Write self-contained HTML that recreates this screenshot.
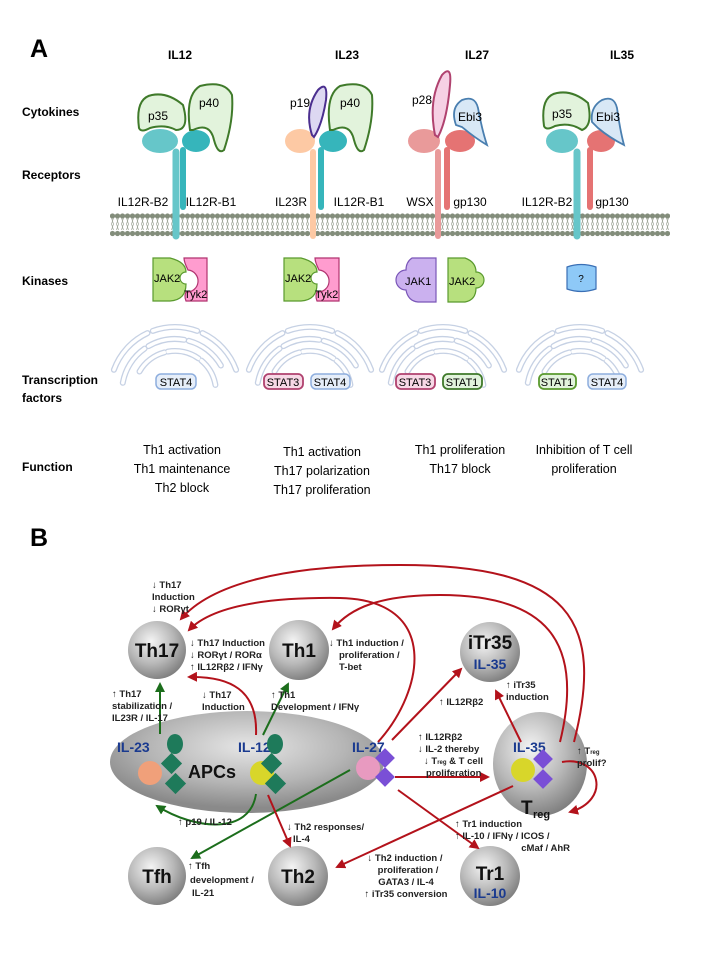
<!DOCTYPE html>
<html><head><meta charset="utf-8"><style>
html,body{margin:0;padding:0;background:#fff;}
svg{display:block;font-family:"Liberation Sans",Arial,sans-serif;}
.h{font-weight:bold;font-size:12px;}
.lab{font-size:12px;}
.b{font-weight:bold;font-size:9.5px;fill:#222;}
.cell{font-weight:bold;font-size:19px;fill:#111;text-anchor:middle;}
.blue{fill:#1a3a8f;font-weight:bold;}
.st{font-size:11px;text-anchor:middle;}
</style></head><body>
<svg width="720" height="960" viewBox="0 0 720 960" xmlns="http://www.w3.org/2000/svg">
<defs>
<pattern id="lip" x="0" y="213" width="5" height="24" patternUnits="userSpaceOnUse">
<circle cx="2.5" cy="3" r="2.6" fill="#838d7b"/>
<circle cx="2.5" cy="20.5" r="2.6" fill="#838d7b"/>
<path d="M1.5 5 L3.5 11 L1.5 17 M3.5 5 L1.5 11 L3.5 17" stroke="#9ca496" stroke-width="0.7" fill="none"/>
</pattern>
<radialGradient id="sph" cx="40%" cy="35%" r="70%">
<stop offset="0" stop-color="#f4f4f4"/><stop offset="0.55" stop-color="#b8b8b8"/><stop offset="1" stop-color="#7a7a7a"/>
</radialGradient>
<radialGradient id="apc" cx="50%" cy="35%" r="60%">
<stop offset="0" stop-color="#e6e6e6"/><stop offset="0.6" stop-color="#b5b5b5"/><stop offset="1" stop-color="#8a8a8a"/>
</radialGradient>
<marker id="ar" viewBox="0 0 10 10" refX="8" refY="5" markerWidth="5" markerHeight="5" orient="auto"><path d="M0 0 L10 5 L0 10 z" fill="#b3121b"/></marker>
<marker id="ag" viewBox="0 0 10 10" refX="8" refY="5" markerWidth="5" markerHeight="5" orient="auto"><path d="M0 0 L10 5 L0 10 z" fill="#1c6e1c"/></marker>
<g id="erp" fill="none" stroke-linecap="round">
<path d="M-61.1 -22.2 A65 65 0 0 1 -27.5 -58.9"/>
<path d="M-22.2 -61.1 A65 65 0 0 1 22.2 -61.1"/>
<path d="M27.5 -58.9 A65 65 0 0 1 61.1 -22.2"/>
<path d="M-52.2 -9.2 A53 53 0 0 1 -30.4 -43.4"/>
<path d="M-26.5 -45.9 A53 53 0 0 1 9.2 -52.2"/>
<path d="M13.7 -51.2 A53 53 0 0 1 45.9 -26.5"/>
<path d="M-35.5 -20.5 A41 41 0 0 1 -10.6 -39.6"/>
<path d="M-7.1 -40.4 A41 41 0 0 1 23.5 -33.6"/>
<path d="M26.4 -31.4 A41 41 0 0 1 40.4 -7.1"/>
</g>
<g id="er">
<use href="#erp" stroke="#c6d1e4" stroke-width="6"/>
<use href="#erp" stroke="#ffffff" stroke-width="3.4"/>
</g>
</defs>

<!-- Panel A -->
<text x="30" y="57" font-size="25" font-weight="bold">A</text>
<g class="h" text-anchor="middle">
<text x="180" y="59">IL12</text><text x="347" y="59">IL23</text><text x="477" y="59">IL27</text><text x="622" y="59">IL35</text>
</g>
<g class="h">
<text x="22" y="116">Cytokines</text><text x="22" y="179">Receptors</text><text x="22" y="285">Kinases</text>
<text x="22" y="384">Transcription</text><text x="22" y="402">factors</text><text x="22" y="471">Function</text>
</g>

<rect x="110" y="213" width="560" height="24" fill="url(#lip)"/>

<!-- IL12 receptors -->
<g>
<path d="M176 236 L176 152" stroke="#66c6c9" stroke-width="7" stroke-linecap="round"/>
<ellipse cx="160" cy="141" rx="18" ry="12" fill="#66c6c9"/>
<path d="M183 207 L183 150" stroke="#36b5bb" stroke-width="6" stroke-linecap="round"/>
<ellipse cx="196" cy="141" rx="14" ry="11" fill="#36b5bb"/>
<path d="M139 128 Q135 98 152 95 Q168 92 183 105 Q190 130 176 130 Q165 124 150 128 Q141 133 139 128Z" fill="#e2f3dc" stroke="#3f7a2a" stroke-width="2"/>
<path d="M190 130 Q185 95 200 86 Q225 80 232 95 Q234 120 224 150 Q218 155 214 140 Q210 122 193 130Z" fill="#e2f3dc" stroke="#3f7a2a" stroke-width="2"/>
<text x="148" y="120" class="lab">p35</text><text x="199" y="107" class="lab">p40</text>
</g>
<!-- IL23 -->
<g>
<path d="M313 236 L313 152" stroke="#fdc9a4" stroke-width="6" stroke-linecap="round"/>
<ellipse cx="300" cy="141" rx="15" ry="12" fill="#fdc9a4"/>
<path d="M321 207 L321 150" stroke="#36b5bb" stroke-width="6" stroke-linecap="round"/>
<ellipse cx="333" cy="141" rx="14" ry="11" fill="#36b5bb"/>
<path d="M312 135 Q304 110 318 90 Q328 80 326 100 Q322 125 314 137Z" fill="#ddd8f2" stroke="#4b2f8f" stroke-width="2"/>
<path d="M330 130 Q325 95 340 86 Q365 80 372 95 Q374 120 364 150 Q358 155 354 140 Q350 122 333 130Z" fill="#e2f3dc" stroke="#3f7a2a" stroke-width="2"/>
<text x="290" y="107" class="lab">p19</text><text x="340" y="107" class="lab">p40</text>
</g>
<!-- IL27 -->
<g>
<path d="M438 236 L438 152" stroke="#e99a9a" stroke-width="6" stroke-linecap="round"/>
<ellipse cx="424" cy="141" rx="16" ry="12" fill="#e99a9a"/>
<path d="M447 207 L447 150" stroke="#e57373" stroke-width="6" stroke-linecap="round"/>
<ellipse cx="460" cy="141" rx="15" ry="11" fill="#e57373"/>
<path d="M435 135 Q428 100 442 75 Q452 64 450 85 Q447 120 438 137Z" fill="#f6d0e4" stroke="#b0426f" stroke-width="2"/>
<path d="M456 125 Q450 108 462 100 Q475 95 478 108 Q482 130 487 145 Q475 138 462 127Z" fill="#d8e8f6" stroke="#4a7fb0" stroke-width="1.8"/>
<text x="412" y="104" class="lab">p28</text><text x="458" y="121" class="lab">Ebi3</text>
</g>
<!-- IL35 -->
<g>
<path d="M577 236 L577 152" stroke="#66c6c9" stroke-width="7" stroke-linecap="round"/>
<ellipse cx="562" cy="141" rx="16" ry="12" fill="#66c6c9"/>
<path d="M590 207 L590 150" stroke="#e57373" stroke-width="6" stroke-linecap="round"/>
<ellipse cx="601" cy="141" rx="14" ry="11" fill="#e57373"/>
<path d="M544 126 Q540 96 557 93 Q573 90 588 103 Q593 126 582 130 Q570 122 555 126 Q546 131 544 126Z" fill="#e2f3dc" stroke="#3f7a2a" stroke-width="2"/>
<path d="M592 122 Q590 107 602 100 Q614 95 617 108 Q620 130 624 145 Q610 138 598 128Z" fill="#d8e8f6" stroke="#4a7fb0" stroke-width="1.8"/>
<text x="552" y="118" class="lab">p35</text><text x="596" y="121" class="lab">Ebi3</text>
</g>
<g class="lab" text-anchor="middle">
<text x="143" y="206">IL12R-B2</text><text x="211" y="206">IL12R-B1</text>
<text x="291" y="206">IL23R</text><text x="359" y="206">IL12R-B1</text>
<text x="420" y="206">WSX</text><text x="470" y="206">gp130</text>
<text x="547" y="206">IL12R-B2</text><text x="612" y="206">gp130</text>
</g>

<!-- kinases -->
<g font-size="11">
<path d="M153 258 L170 258 Q186 262 186 272 A6 6 0 0 0 186 284 Q186 300 170 301 L153 301Z" fill="#b7e07e" stroke="#5a9a2e" stroke-width="1.2"/>
<path d="M184 258 L207 258 L207 301 L186 301 Q184 296 186 292 A8 8 0 0 0 188 270 Q184 262 184 258Z" fill="#ff9ccf" stroke="#b0336f" stroke-width="1.2"/>
<text x="154" y="282">JAK2</text><text x="184" y="298">Tyk2</text>
<path d="M284 258 L301 258 Q317 262 317 272 A6 6 0 0 0 317 284 Q317 300 301 301 L284 301Z" fill="#b7e07e" stroke="#5a9a2e" stroke-width="1.2"/>
<path d="M315 258 L339 258 L339 301 L317 301 Q315 296 317 292 A8 8 0 0 0 319 270 Q315 262 315 258Z" fill="#ff9ccf" stroke="#b0336f" stroke-width="1.2"/>
<text x="285" y="282">JAK2</text><text x="315" y="298">Tyk2</text>
<path d="M436 258 L412 258 Q406 262 406 270 A7 7 0 0 0 406 290 Q408 301 418 302 L436 302Z" fill="#cbb1ef" stroke="#7a56b8" stroke-width="1.2"/>
<path d="M448 258 L465 258 Q476 262 476 272 A7 7 0 0 1 476 288 Q476 300 465 302 L448 302Z" fill="#b7e07e" stroke="#5a9a2e" stroke-width="1.2"/>
<text x="405" y="285">JAK1</text><text x="449" y="285">JAK2</text>
<path d="M567 267 Q581 262 596 267 L596 289 Q581 294 567 289Z" fill="#8ec9f7" stroke="#3a6fb5" stroke-width="1.2"/>
<text x="581" y="282" text-anchor="middle" font-size="10">?</text>
</g>

<!-- ER + STATs -->
<use href="#er" x="175" y="392"/><use href="#er" x="310" y="392"/><use href="#er" x="443" y="392"/><use href="#er" x="580" y="392"/>
<g>
<rect x="156" y="374" width="40" height="15" rx="5" fill="#e6eef9" stroke="#8eaede" stroke-width="1.5"/>
<rect x="264" y="374" width="39" height="15" rx="5" fill="#f7d8e6" stroke="#b0426f" stroke-width="1.8"/>
<rect x="311" y="374" width="39" height="15" rx="5" fill="#e6eef9" stroke="#8eaede" stroke-width="1.5"/>
<rect x="396" y="374" width="39" height="15" rx="5" fill="#f7d8e6" stroke="#b0426f" stroke-width="1.8"/>
<rect x="443" y="374" width="39" height="15" rx="5" fill="#e2f3dc" stroke="#3f7a2a" stroke-width="1.8"/>
<rect x="539" y="374" width="37" height="15" rx="5" fill="#e2f3dc" stroke="#5a9a2e" stroke-width="1.8"/>
<rect x="588" y="374" width="38" height="15" rx="5" fill="#e6eef9" stroke="#8eaede" stroke-width="1.5"/>
<g class="st"><text x="176" y="386">STAT4</text><text x="283" y="386">STAT3</text><text x="330" y="386">STAT4</text>
<text x="415" y="386">STAT3</text><text x="462" y="386">STAT1</text><text x="557" y="386">STAT1</text><text x="607" y="386">STAT4</text></g>
</g>

<!-- function -->
<g font-size="12.5" text-anchor="middle">
<text x="182" y="454">Th1 activation</text><text x="182" y="473">Th1 maintenance</text><text x="182" y="492">Th2 block</text>
<text x="322" y="456">Th1 activation</text><text x="322" y="475">Th17 polarization</text><text x="322" y="494">Th17 proliferation</text>
<text x="460" y="454">Th1 proliferation</text><text x="460" y="473">Th17  block</text>
<text x="584" y="454">Inhibition of T cell</text><text x="584" y="473">proliferation</text>
</g>

<!-- Panel B -->
<text x="30" y="546" font-size="25" font-weight="bold">B</text>

<ellipse cx="247" cy="762" rx="137" ry="51" fill="url(#apc)"/>
<ellipse cx="540" cy="764" rx="47" ry="52" fill="url(#sph)"/>
<circle cx="157" cy="650" r="29" fill="url(#sph)"/>
<circle cx="299" cy="650" r="30" fill="url(#sph)"/>
<circle cx="490" cy="652" r="30" fill="url(#sph)"/>
<circle cx="157" cy="876" r="29" fill="url(#sph)"/>
<circle cx="298" cy="876" r="30" fill="url(#sph)"/>
<circle cx="490" cy="876" r="30" fill="url(#sph)"/>
<text x="157" y="657" class="cell">Th17</text>
<text x="299" y="657" class="cell">Th1</text>
<text x="490" y="649" class="cell">iTr35</text><text x="490" y="669" font-size="14" text-anchor="middle" class="blue">IL-35</text>
<text x="157" y="883" class="cell">Tfh</text>
<text x="298" y="883" class="cell">Th2</text>
<text x="490" y="880" class="cell">Tr1</text><text x="490" y="898" font-size="14" text-anchor="middle" class="blue">IL-10</text>
<text x="188" y="778" font-size="18" font-weight="bold" fill="#111">APCs</text>
<text x="521" y="814" font-size="19" font-weight="bold" fill="#111">T</text><text x="533" y="818" font-size="11" font-weight="bold" fill="#111">reg</text>

<g>
<text x="117" y="752" font-size="14" class="blue">IL-23</text>
<circle cx="150" cy="773" r="12" fill="#f0a07a"/>
<ellipse cx="175" cy="744" rx="8" ry="10" fill="#1e7a5a"/>
<rect x="164" y="756" width="15" height="15" fill="#1e7a5a" transform="rotate(45 171.5 763.5)"/>
<rect x="168" y="776" width="15" height="15" fill="#1e7a5a" transform="rotate(45 175.5 783.5)"/>
<text x="238" y="752" font-size="14" class="blue">IL-12</text>
<circle cx="262" cy="773" r="12" fill="#d8d62a"/>
<ellipse cx="275" cy="744" rx="8" ry="10" fill="#1e7a5a"/>
<rect x="264" y="756" width="15" height="15" fill="#1e7a5a" transform="rotate(45 271.5 763.5)"/>
<rect x="268" y="776" width="15" height="15" fill="#1e7a5a" transform="rotate(45 275.5 783.5)"/>
<text x="352" y="752" font-size="14" class="blue">IL-27</text>
<circle cx="368" cy="768" r="12" fill="#e89ac0"/>
<rect x="378" y="751" width="14" height="14" fill="#7a4fd6" transform="rotate(45 385 758)"/>
<rect x="378" y="770" width="14" height="14" fill="#7a4fd6" transform="rotate(45 385 777)"/>
<text x="513" y="752" font-size="14" class="blue">IL-35</text>
<circle cx="523" cy="770" r="12" fill="#d8d62a"/>
<rect x="536" y="752" width="14" height="14" fill="#7a4fd6" transform="rotate(45 543 759)"/>
<rect x="536" y="772" width="14" height="14" fill="#7a4fd6" transform="rotate(45 543 779)"/>
</g>

<g fill="none" stroke-width="2">
<path d="M160 734 L160 684" stroke="#1c6e1c" marker-end="url(#ag)"/>
<path d="M263 735 L288 684" stroke="#1c6e1c" marker-end="url(#ag)"/>
<path d="M256 794 C250 835 195 830 157 806" stroke="#1c6e1c" marker-end="url(#ag)"/>
<path d="M350 770 L192 858" stroke="#1c6e1c" marker-end="url(#ag)"/>
<g stroke="#b3121b">
<path d="M256 735 C258 690 230 676 189 677" marker-end="url(#ar)"/>
<path d="M268 795 L290 846" marker-end="url(#ar)"/>
<path d="M378 742 C425 690 440 600 340 598 C260 597 210 608 189 630" marker-end="url(#ar)"/>
<path d="M392 740 L461 669" marker-end="url(#ar)"/>
<path d="M574 742 C605 620 570 565 400 565 C280 565 210 585 181 619" marker-end="url(#ar)"/>
<path d="M560 742 C585 640 545 595 440 595 C380 595 350 608 333 629" marker-end="url(#ar)"/>
<path d="M521 742 L496 691" marker-end="url(#ar)"/>
<path d="M395 777 L488 777" marker-end="url(#ar)"/>
<path d="M398 790 L478 848" marker-end="url(#ar)"/>
<path d="M513 786 L337 867" marker-end="url(#ar)"/>
<path d="M562 762 C600 755 612 800 570 812" marker-end="url(#ar)"/>
</g>
</g>

<g class="b">
<text x="152" y="588">↓ Th17</text><text x="152" y="600">Induction</text><text x="152" y="612">↓ RORγt</text>
<text x="190" y="646">↓ Th17 Induction</text><text x="190" y="658">↓ RORγt / RORα</text><text x="190" y="670">↑ IL12Rβ2 / IFNγ</text>
<text x="329" y="646">↓ Th1 induction /</text><text x="339" y="658">proliferation /</text><text x="339" y="670">T-bet</text>
<text x="112" y="697">↑ Th17</text><text x="112" y="709">stabilization /</text><text x="112" y="721">IL23R / IL-17</text>
<text x="202" y="698">↓ Th17</text><text x="202" y="710">Induction</text>
<text x="271" y="698">↑ Th1</text><text x="271" y="710">Development / IFNγ</text>
<text x="439" y="705">↑ IL12Rβ2</text>
<text x="506" y="688">↑ iTr35</text><text x="506" y="700">induction</text>
<text x="418" y="740">↑ IL12Rβ2</text><text x="418" y="752">↓ IL-2 thereby</text><text x="424" y="764">↓ T<tspan font-size="6">reg</tspan> &amp; T cell</text><text x="426" y="776">proliferation</text>
<text x="577" y="754">↑ T<tspan font-size="6">reg</tspan></text><text x="577" y="766">prolif?</text>
<text x="178" y="825">↑ p19 / IL-12</text>
<text x="287" y="830">↓ Th2 responses/</text><text x="293" y="842">IL-4</text>
<text x="455" y="827">↑ Tr1 induction</text><text x="455" y="839">↑ IL-10 / IFNγ / ICOS /</text><text x="570" y="851" text-anchor="end">cMaf / AhR</text>
<text x="188" y="869">↑ Tfh</text><text x="190" y="883">development  /</text><text x="192" y="896">IL-21</text>
<g text-anchor="middle"><text x="405" y="861">↓ Th2 induction /</text><text x="408" y="873">proliferation /</text><text x="406" y="885">GATA3 / IL-4</text><text x="406" y="897">↑ iTr35 conversion</text></g>
</g>
</svg>
</body></html>
